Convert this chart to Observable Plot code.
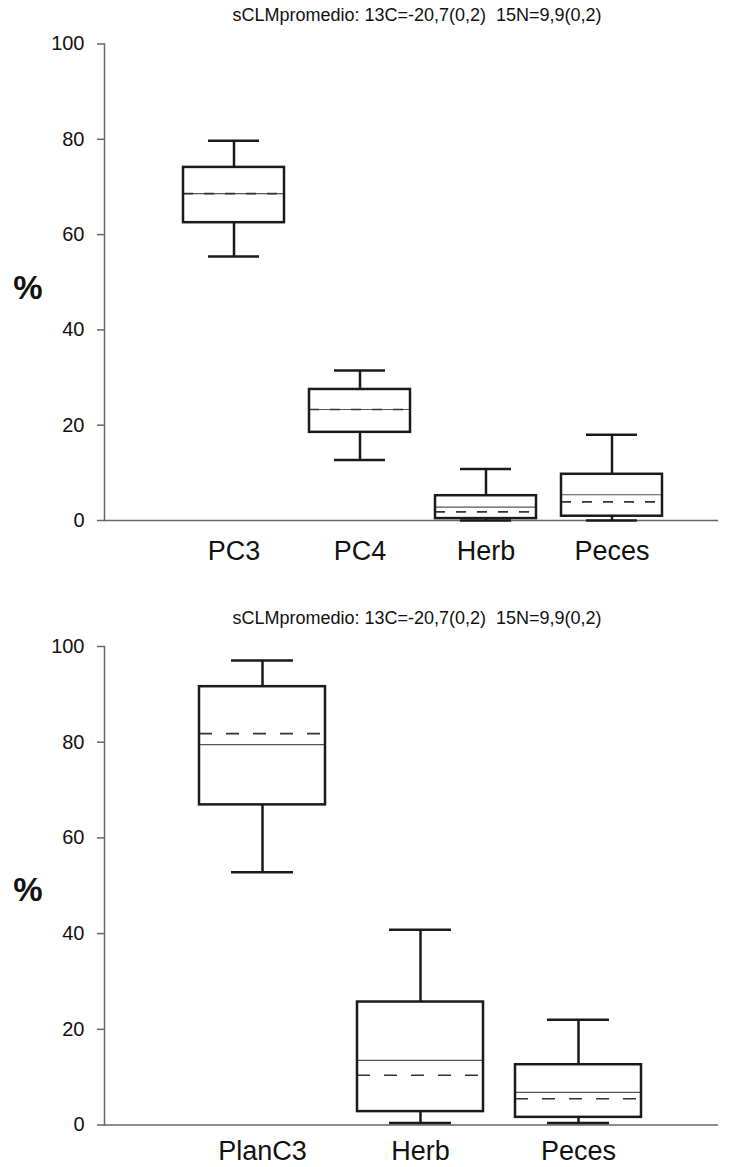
<!DOCTYPE html>
<html>
<head>
<meta charset="utf-8">
<script src="https://cdn.jsdelivr.net/npm/d3@7"></script>
<script src="https://cdn.jsdelivr.net/npm/@observablehq/plot@0.6"></script>
<style>
  body { margin: 0; background: white; font-family: "Liberation Sans", Arial, sans-serif; color: #111; }
  #wrap { position: relative; width: 731px; height: 1167px; overflow: hidden; }
  .title { position: absolute; white-space: pre; font-size: 18px; line-height: 20px; transform: translateX(-50%); }
  .pct { position: absolute; font-size: 33px; font-weight: bold; line-height: 1; transform: translate(-50%, -50%); }
  .chart { position: absolute; left: 0; }
</style>
</head>
<body>
<div id="wrap">
  <div class="title" style="left:417px; top:5px;">sCLMpromedio: 13C=-20,7(0,2)  15N=9,9(0,2)</div>
  <div class="chart" id="c1" style="top:28px;"></div>
  <div class="pct" style="left:28px; top:287px;">%</div>
  <div class="title" style="left:417px; top:608px;">sCLMpromedio: 13C=-20,7(0,2)  15N=9,9(0,2)</div>
  <div class="chart" id="c2" style="top:630px;"></div>
  <div class="pct" style="left:28px; top:889px;">%</div>
</div>
<script>
// ---- Data: top panel ----
const cats1   = ["PC3", "PC4", "Herb", "Peces"];
const min1    = [55.4, 12.7, 0.0, 0.0];
const q1_1    = [62.5, 18.5, 0.4, 0.9];
const median1 = [68.6, 23.3, 2.8, 5.4];
const mean1   = [68.6, 23.3, 1.8, 3.9];
const q3_1    = [74.1, 27.5, 5.2, 9.7];
const max1    = [79.7, 31.5, 10.8, 18.0];

// ---- Data: bottom panel ----
const cats2   = ["PlanC3", "Herb", "Peces"];
const min2    = [52.8, 0.4, 0.4];
const q1_2    = [66.9, 2.8, 1.6];
const median2 = [79.5, 13.5, 6.8];
const mean2   = [81.8, 10.4, 5.5];
const q3_2    = [91.6, 25.7, 12.6];
const max2    = [97.1, 40.8, 22.0];

const yTicks = [0, 20, 40, 60, 80, 100];

function rowsOf(cats, mn, q1, med, mean, q3, mx) {
  return cats.map((c, i) => ({cat: c, min: mn[i], q1: q1[i], median: med[i], mean: mean[i], q3: q3[i], max: mx[i]}));
}

const boxStroke = "#1a1a1a";
const axisGray = "#666";

function boxChart(rows, cats, opts) {
  return Plot.plot({
    width: 731,
    height: opts.height,
    marginTop: opts.marginTop,
    marginBottom: opts.marginBottom,
    marginLeft: 104,
    marginRight: 13,
    style: {fontFamily: '"Liberation Sans", Arial, sans-serif', background: "white", color: "#111", overflow: "visible"},
    x: {domain: cats, range: opts.xRange, paddingInner: 0.2, paddingOuter: 0, label: null},
    y: {domain: [0, 100], label: null},
    marks: [
      Plot.axisY({ticks: yTicks, tickSize: 7, tickPadding: 13, fontSize: 20, stroke: axisGray, strokeWidth: 1.5, fill: "#111", label: null}),
      Plot.axisX({tickSize: 0, tickPadding: opts.xPad, fontSize: 27, fill: "#111", label: null}),
      Plot.frame({anchor: "left", stroke: axisGray, strokeWidth: 1.5}),
      Plot.ruleY([0], {stroke: axisGray, strokeWidth: 1.5}),
      // whiskers
      Plot.ruleX(rows, {x: "cat", y1: "q3", y2: "max", stroke: boxStroke, strokeWidth: 2.5}),
      Plot.ruleX(rows, {x: "cat", y1: "min", y2: "q1", stroke: boxStroke, strokeWidth: 2.5}),
      Plot.tickY(rows, {x: "cat", y: "max", insetLeft: opts.capInset, insetRight: opts.capInset, stroke: boxStroke, strokeWidth: 2.5}),
      Plot.tickY(rows, {x: "cat", y: "min", insetLeft: opts.capInset, insetRight: opts.capInset, stroke: boxStroke, strokeWidth: 2.5}),
      // box fill
      Plot.barY(rows, {x: "cat", y1: "q1", y2: "q3", fill: "white"}),
      // median (solid) and mean (dashed)
      Plot.tickY(rows, {x: "cat", y: "median", stroke: "#555", strokeWidth: 1.2}),
      Plot.tickY(rows, {x: "cat", y: "mean", stroke: "#333", strokeWidth: 1.6, strokeDasharray: opts.dash}),
      // box outline
      Plot.barY(rows, {x: "cat", y1: "q1", y2: "q3", fill: "none", stroke: boxStroke, strokeWidth: 2.5})
    ]
  });
}

const rows1 = rowsOf(cats1, min1, q1_1, median1, mean1, q3_1, max1);
const rows2 = rowsOf(cats2, min2, q1_2, median2, mean2, q3_2, max2);

document.getElementById("c1").appendChild(boxChart(rows1, cats1, {
  height: 560, marginTop: 15.5, marginBottom: 68, xRange: [181, 663], xPad: 20, capInset: 25, dash: "10,11"
}));
document.getElementById("c2").appendChild(boxChart(rows2, cats2, {
  height: 537, marginTop: 16, marginBottom: 42.5, xRange: [199, 642], xPad: 15.5, capInset: 32, dash: "13,14"
}));
</script>
</body>
</html>
